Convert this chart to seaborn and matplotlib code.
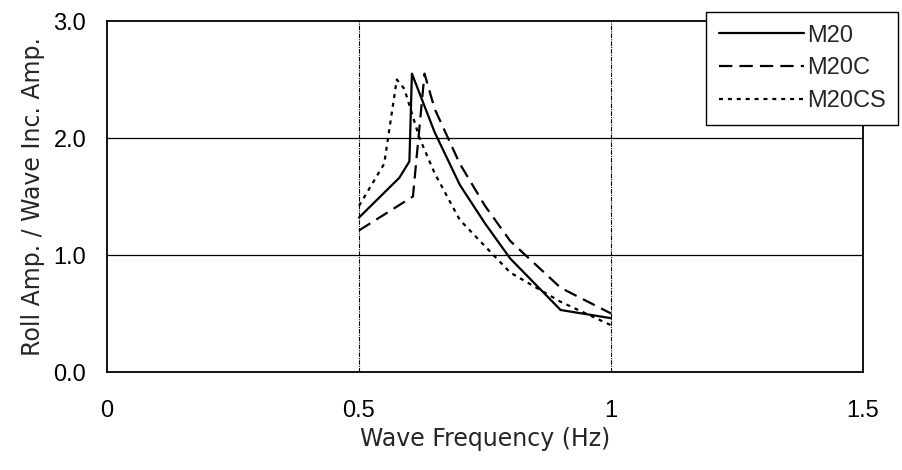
import pandas as pd
import seaborn as sns
import matplotlib
matplotlib.use('Agg')
import matplotlib.pyplot as plt

# values
m20_freq = [0.5, 0.58, 0.6, 0.605, 0.65, 0.7, 0.75, 0.8, 0.9, 1.0]
m20_amp = [1.32, 1.66, 1.8, 2.55, 2.05, 1.6, 1.27, 0.97, 0.53, 0.46]

m20c_freq = [0.5, 0.607, 0.63, 0.65, 0.7, 0.75, 0.8, 0.9, 1.0]
m20c_amp = [1.21, 1.5, 2.55, 2.25, 1.78, 1.42, 1.12, 0.72, 0.5]

m20cs_freq = [0.5, 0.55, 0.575, 0.59, 0.62, 0.65, 0.7, 0.8, 0.9, 1.0]
m20cs_amp = [1.42, 1.78, 2.5, 2.42, 2.0, 1.7, 1.3, 0.85, 0.6, 0.4]

series_names = ['M20', 'M20C', 'M20CS']

df = pd.concat([
    pd.DataFrame({'freq': m20_freq, 'amp': m20_amp, 'model': 'M20'}),
    pd.DataFrame({'freq': m20c_freq, 'amp': m20c_amp, 'model': 'M20C'}),
    pd.DataFrame({'freq': m20cs_freq, 'amp': m20cs_amp, 'model': 'M20CS'}),
], ignore_index=True)

sns.set_style('white')
plt.rcParams['font.family'] = ['Liberation Sans', 'DejaVu Sans']

fig = plt.figure(figsize=(9.02, 4.70), dpi=100)
ax = fig.add_axes([0.1186, 0.2085, 0.8382, 0.7468])

sns.lineplot(data=df, x='freq', y='amp', style='model', style_order=series_names,
             dashes={'M20': '', 'M20C': (6, 3.2), 'M20CS': (1.8, 2.2)},
             color='black', linewidth=1.6, sort=False, estimator=None, ax=ax, legend=True)

ax.set_xlim(0, 1.5)
ax.set_ylim(0, 3.0)
ax.set_xticks([0, 0.5, 1.0, 1.5])
ax.set_xticklabels(['0', '0.5', '1', '1.5'])
ax.set_yticks([0, 1, 2, 3])
ax.set_yticklabels(['0.0', '1.0', '2.0', '3.0'])
ax.tick_params(axis='both', length=0, labelsize=17, colors='black')
ax.tick_params(axis='x', pad=20)
ax.tick_params(axis='y', pad=15)

# horizontal grid solid, vertical grid thin dash-dot
for y in [1, 2]:
    ax.axhline(y, color='black', linewidth=0.9, zorder=0)
for x in [0.5, 1.0]:
    ax.axvline(x, color='black', linewidth=0.8, linestyle=(0, (4, 1, 1, 1)), zorder=0)

for s in ax.spines.values():
    s.set_color('black')
    s.set_linewidth(1.3)

ax.set_xlabel('Wave Frequency (Hz)', fontsize=17, family='DejaVu Sans', labelpad=4)
ax.set_ylabel('Roll Amp. / Wave Inc. Amp.', fontsize=17, family='DejaVu Sans', labelpad=6)

handles, labels = ax.get_legend_handles_labels()
ax.get_legend().remove()
leg = fig.legend(handles, labels, loc='upper right', bbox_to_anchor=(0.996, 0.975),
                 fontsize=17, handlelength=3.6, handletextpad=0.1, labelspacing=0.45,
                 borderpad=0.55, borderaxespad=0, frameon=True, fancybox=False, framealpha=1)
leg.get_frame().set_edgecolor('black')
leg.get_frame().set_linewidth(1.0)

fig.savefig('out.png', dpi=100)
